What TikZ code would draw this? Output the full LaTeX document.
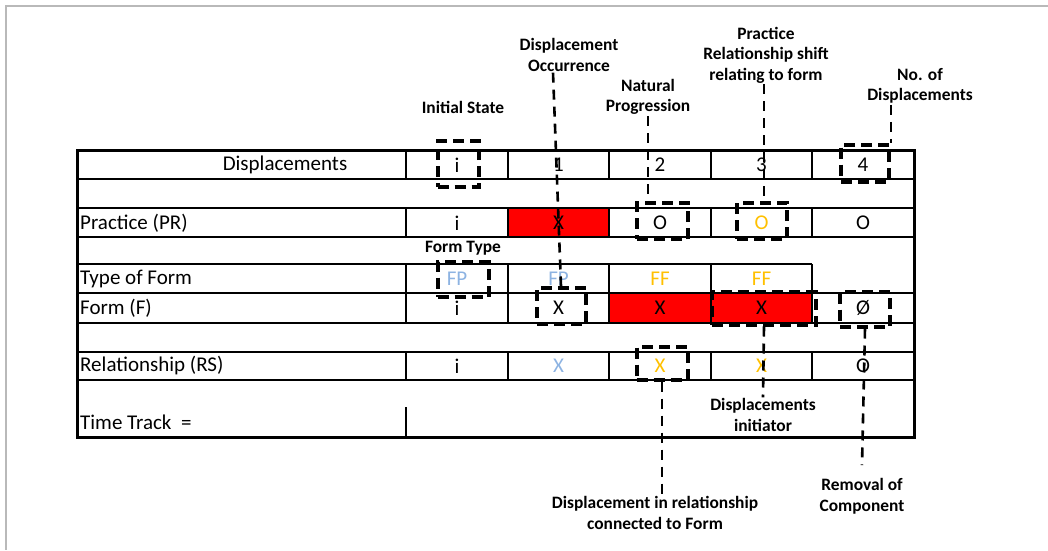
\documentclass[tikz,border=0pt]{standalone}
\usepackage{fontspec}
\setmainfont{Carlito}
\usetikzlibrary{positioning}
\definecolor{fpblue}{HTML}{8DB3E2}
\definecolor{fforange}{HTML}{FFC000}

\begin{document}
\begin{tikzpicture}[x=1pt,y=-1pt,
    cell/.style={font=\fontsize{21}{25}\selectfont,inner sep=0pt},
    lbl/.style={font=\fontsize{17.4}{20.5}\selectfont\bfseries,align=center,inner sep=1pt},
    hl/.style 2 args={draw,line width=4pt,dash pattern=on 11pt off 6pt,
      minimum width=#1,minimum height=#2,inner sep=0pt},
    link/.style={line width=2.6pt,dash pattern=on 10pt off 7pt},
    grid/.style={line width=1.5pt}]
  \useasboundingbox (0,0) rectangle (1048,550);
  \draw[gray!55,line width=1.5pt] (1048,6) -- (6,6) -- (6,550);

  % red cells
  \fill[red] (508,208) rectangle (609,237);
  \fill[red] (609,293) rectangle (812,323);

  % table
  \foreach \y in {179,208,237,293,323,352,380}
    \draw[grid] (77,\y) -- (914,\y);
  \draw[grid] (77,264) -- (812,264);
  \foreach \a/\b in {150/179,208/237,264/293,293/323,352/380}
    \foreach \x in {406,508,609,711,812}
      \draw[grid] (\x,\a) -- (\x,\b);
  \draw[grid] (406,407) -- (406,437);
  \draw[line width=3pt] (77,150) rectangle (914,437);

  % row heads
  \node[cell] (hd) at (285,165) {Displacements};
  \node[cell,anchor=west] (pr) at (80,223) {Practice (PR)};
  \node[cell,anchor=west] (tf) at (80,279) {Type of Form};
  \node[cell,anchor=west] (fm) at (80,308) {Form (F)};
  \node[cell,anchor=west] (rs) at (80,366) {Relationship (RS)};
  \node[cell,anchor=west] (tt) at (80,422) {Time Track\ \ =};

  % cells
  \foreach \t [count=\i] in {i,1,2,3,4}
    \node[cell] (d\i) at (355.5+101.5*\i,165) {\t};
  \foreach \t/\c [count=\i] in {i/black,X/black,O/black,O/fforange,O/black}
    \node[cell,text=\c] (p\i) at (355.5+101.5*\i,223) {\t};
  \foreach \t/\c [count=\i] in {FP/fpblue,FP/fpblue,FF/fforange,FF/fforange}
    \node[cell,text=\c] (t\i) at (355.5+101.5*\i,279) {\t};
  \foreach \t [count=\i] in {i,X,X,X,Ø}
    \node[cell] (f\i) at (355.5+101.5*\i,308) {\t};
  \foreach \t/\c [count=\i] in {i/black,X/fpblue,X/fforange,X/fforange,O/black}
    \node[cell,text=\c] (r\i) at (355.5+101.5*\i,366) {\t};

  % highlight boxes
  \node[hl={41pt}{46pt}] (bI) at (458,164) {};
  \node[hl={48pt}{37pt}] (b4) at (865,163) {};
  \node[hl={51pt}{36pt}] (bO2) at (662,221) {};
  \node[hl={50pt}{36pt}] (bO3) at (762,221) {};
  \node[hl={51pt}{35pt}] (bFP) at (463,279) {};
  \node[hl={49pt}{36pt}] (bX1) at (561,306) {};
  \node[hl={104pt}{33pt}] (bX3) at (764,308) {};
  \node[hl={50pt}{35pt}] (bNull) at (865,309) {};
  \node[hl={51pt}{33pt}] (bX2) at (662,363) {};

  % labels
  \node[lbl] (lInit) at (463,107) {Initial State};
  \node[lbl] (lOcc) at (569,55) {Displacement\\Occurrence};
  \node[lbl] (lNat) at (648,97) {Natural\\Progression};
  \node[lbl] (lShift) at (766,55) {Practice\\Relationship shift\\relating to form};
  \node[lbl] (lNo) at (920,86) {No. of\\Displacements};
  \node[lbl] (lType) at (463,248) {Form Type};
  \node[lbl] (lStart) at (763,415) {Displacements\\initiator};
  \node[lbl] (lRel) at (655,513) {Displacement in relationship\\connected to Form};
  \node[lbl] (lRem) at (862,496) {Removal of\\Component};

  % dashed links
  \draw[link] ([xshift=-16pt]lOcc.south) -- (bX1.north);
  \draw[link] (lNat.south) -- (lNat.south |- bO2.north);
  \draw[link] ([xshift=-2pt]lShift.south) -- ([xshift=-2pt]lShift.south |- bO3.north);
  \draw[link] (b4.north east |- lNo.south) -- (b4.north east);
  \draw[link] (bX3.south) -- (lStart.north);
  \draw[link] (bX2.south) -- (bX2.south |- lRel.north);
  \draw[link] (bNull.south) -- ([yshift=12pt]lRem.north);
\end{tikzpicture}
\end{document}
